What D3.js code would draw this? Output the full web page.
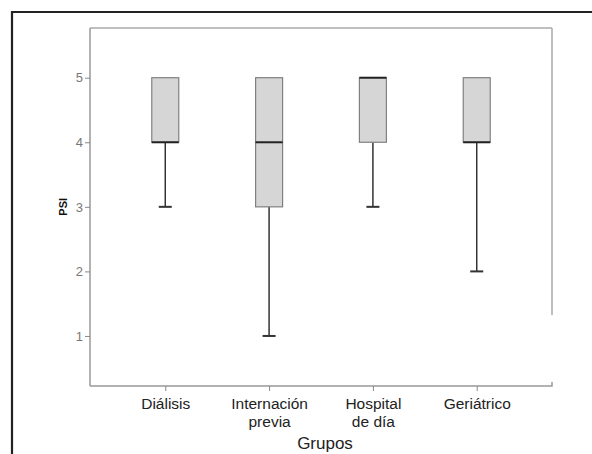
<!DOCTYPE html>
<html>
<head>
<meta charset="utf-8">
<script src="https://cdn.jsdelivr.net/npm/d3@7"></script>
<style>
  html, body { margin: 0; padding: 0; background: #fff; }
  svg { display: block; }
</style>
</head>
<body>
<svg id="chart" width="592" height="454"></svg>
<script>
// ---- data ----
const categories = [["Diálisis"], ["Internación", "previa"], ["Hospital", "de día"], ["Geriátrico"]];
const mins    = [3, 1, 3, 2];
const q1s     = [4, 3, 4, 4];
const medians = [4, 4, 5, 4];
const q3s     = [5, 5, 5, 5];
const maxs    = [5, 5, 5, 5];
const yTicks  = [1, 2, 3, 4, 5];
const yLabel  = "PSI";
const xLabel  = "Grupos";

// ---- layout ----
const svg = d3.select("#chart");
const L = 90, R = 552, T = 28, B = 386;
const FONT = "Liberation Sans, Arial, Helvetica, sans-serif";
const keys = categories.map(c => c.join(" "));

const x = d3.scalePoint().domain(keys).range([L, R]).padding(0.725);
const y = d3.scaleLinear().domain([0.225, 5.77]).range([B, T]);

// outer frame (cut at right/bottom)
svg.append("path")
  .attr("d", `M12,454 L12,12 L592,12`)
  .attr("fill", "none").attr("stroke", "#222").attr("stroke-width", 2.2);

// plot frame: top and right (right has a gap)
svg.append("line").attr("x1", L).attr("x2", R).attr("y1", T).attr("y2", T)
  .attr("stroke", "#aaa").attr("stroke-width", 1.5);
svg.append("line").attr("x1", R).attr("x2", R).attr("y1", T).attr("y2", 315)
  .attr("stroke", "#aaa").attr("stroke-width", 1.5);

// y axis
const yAxis = d3.axisLeft(y).tickValues(yTicks).tickSize(5).tickPadding(2).tickFormat(d3.format("d"));
const gy = svg.append("g").attr("transform", `translate(${L},0)`).call(yAxis);
gy.select(".domain").attr("d", `M0,${T}V${B}`).attr("stroke", "#999").attr("stroke-width", 1.5);
gy.selectAll(".tick line").attr("stroke", "#888");
gy.selectAll(".tick text").attr("fill", "#777").attr("font-family", FONT).attr("font-size", 13);

// x axis
const xAxis = d3.axisBottom(x).tickSize(5).tickFormat(() => "");
const gx = svg.append("g").attr("transform", `translate(0,${B})`).call(xAxis);
gx.select(".domain").attr("d", `M${L},0H${R}V-4`).attr("stroke", "#999").attr("stroke-width", 1.5).attr("fill", "none");
gx.selectAll(".tick line").attr("stroke", "#888");
gx.selectAll(".tick").each(function(d, i) {
  const t = d3.select(this).append("text")
    .attr("fill", "#222").attr("text-anchor", "middle")
    .attr("font-family", FONT).attr("font-size", 15.5);
  categories[i].forEach((line, j) => {
    t.append("tspan").attr("x", 0).attr("y", 23 + j * 18).text(line);
  });
});

// axis titles
svg.append("text")
  .attr("transform", `translate(67,${y(3)}) rotate(-90)`)
  .attr("text-anchor", "middle")
  .attr("font-family", FONT)
  .attr("font-weight", "bold").attr("font-size", 11).attr("fill", "#111")
  .text(yLabel);
svg.append("text")
  .attr("x", 325).attr("y", 449)
  .attr("text-anchor", "middle")
  .attr("font-family", FONT)
  .attr("font-size", 17).attr("fill", "#222")
  .text(xLabel);

// boxes
const boxW = 27, capW = 13;
const g = svg.append("g");
keys.forEach((k, i) => {
  const cx = x(k);
  // whiskers
  g.append("line").attr("x1", cx).attr("x2", cx)
    .attr("y1", y(q1s[i])).attr("y2", y(mins[i]))
    .attr("stroke", "#333").attr("stroke-width", 1.5);
  g.append("line").attr("x1", cx - capW / 2).attr("x2", cx + capW / 2)
    .attr("y1", y(mins[i])).attr("y2", y(mins[i]))
    .attr("stroke", "#333").attr("stroke-width", 2);
  g.append("line").attr("x1", cx).attr("x2", cx)
    .attr("y1", y(q3s[i])).attr("y2", y(maxs[i]))
    .attr("stroke", "#333").attr("stroke-width", 1.5);
  // box
  g.append("rect")
    .attr("x", cx - boxW / 2).attr("width", boxW)
    .attr("y", y(q3s[i])).attr("height", y(q1s[i]) - y(q3s[i]))
    .attr("fill", "#d6d6d6").attr("stroke", "#808080").attr("stroke-width", 1.2);
  // median
  g.append("line").attr("x1", cx - boxW / 2).attr("x2", cx + boxW / 2)
    .attr("y1", y(medians[i])).attr("y2", y(medians[i]))
    .attr("stroke", "#222").attr("stroke-width", 2);
});
</script>
</body>
</html>
